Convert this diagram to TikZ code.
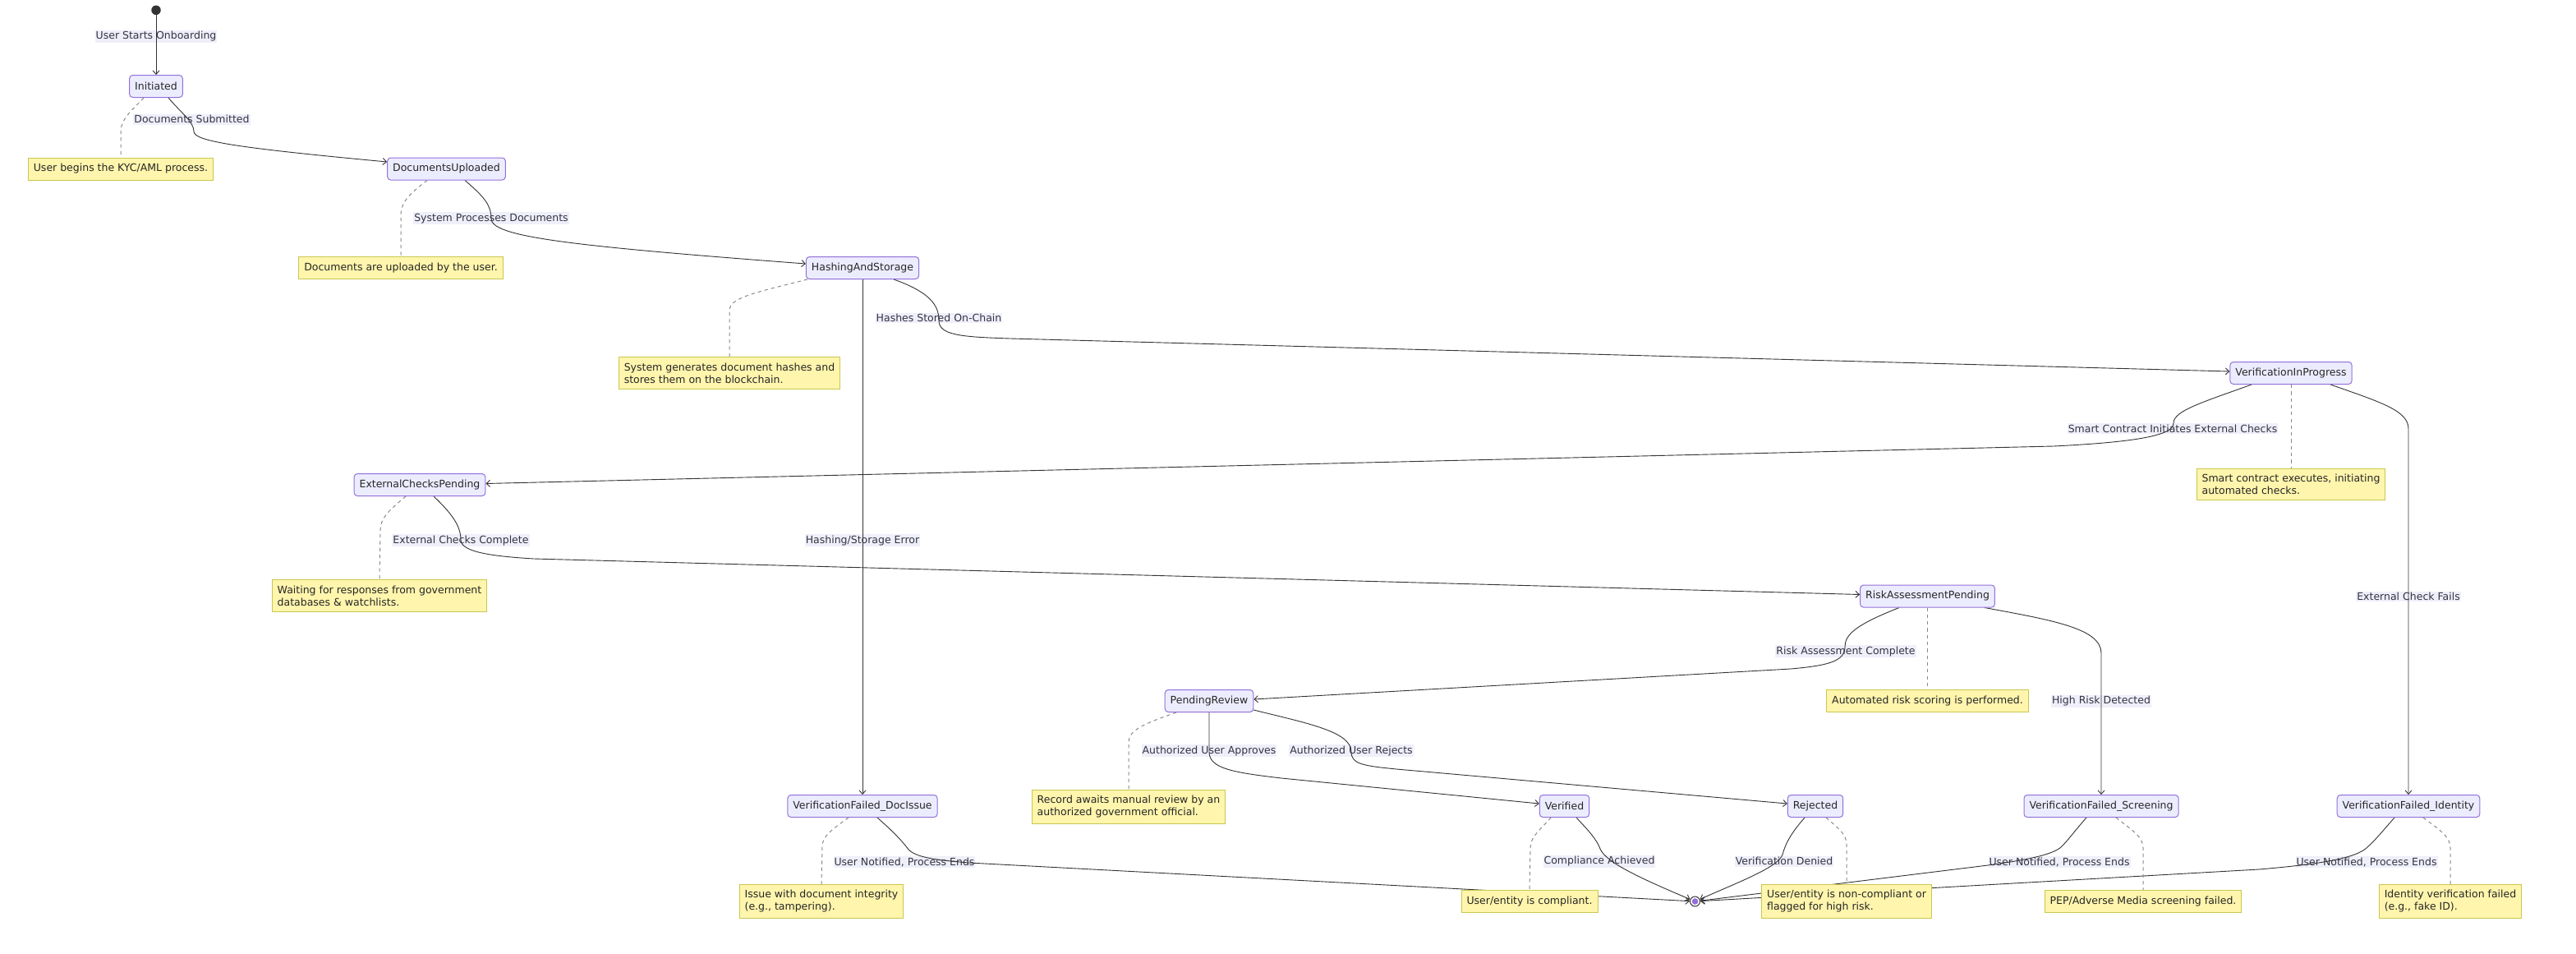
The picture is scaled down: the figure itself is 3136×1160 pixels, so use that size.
\documentclass[tikz,border=0pt]{standalone}
\usepackage{fontspec}
\setmainfont{DejaVu Sans}
\usetikzlibrary{arrows.meta,calc}
\definecolor{stfill}{HTML}{ECECFF}
\definecolor{stdraw}{HTML}{9370DB}
\definecolor{notefill}{HTML}{FFF5AD}
\definecolor{notedraw}{HTML}{C8C850}
\definecolor{edgec}{HTML}{333333}
\definecolor{lblfill}{HTML}{EFEFFA}
\definecolor{txt}{HTML}{333344}
\definecolor{dashc}{HTML}{888888}
\pgfdeclarelayer{lbllayer}
\pgfdeclarelayer{edgelayer}
\pgfsetlayers{lbllayer,edgelayer,main}
\begin{document}
\begin{tikzpicture}[x=1pt,y=-1pt,
 every node/.style={font=\fontsize{12.5}{15}\selectfont},
 stnode/.style={draw=stdraw, fill=stfill, rounded corners=4pt, line width=1pt, inner xsep=6.5pt, inner ysep=0pt, minimum height=27pt, text=black!85},
 notebox/.style={draw=notedraw, fill=notefill, line width=1pt, inner xsep=6.5pt, inner ysep=7pt, minimum height=27pt, align=left, text=black!85},
 lbl/.style={fill=lblfill, inner xsep=1pt, inner ysep=1.5pt, text=txt},
 trans/.style={draw=edgec, line width=0.9pt, -{Straight Barb[length=4.5pt,width=8pt]}},
 notelink/.style={draw=dashc, line width=1pt, dash pattern=on 4.2pt off 4.1pt}]
\useasboundingbox (0,0) rectangle (3136,1160);

% ---------- states ----------
\node[circle, fill=edgec, minimum size=11.5pt, inner sep=0pt] (start) at (190,12.3) {};
\node[stnode] (init) at (190,105) {Initiated};
\node[stnode] (docup) at (543.5,205.5) {DocumentsUploaded};
\node[stnode] (hash) at (1050,326) {HashingAndStorage};
\node[stnode] (vip) at (2789,454) {VerificationInProgress};
\node[stnode] (ecp) at (511,590) {ExternalChecksPending};
\node[stnode] (rap) at (2346.5,725.5) {RiskAssessmentPending};
\node[stnode] (pr) at (1472,853) {PendingReview};
\node[stnode] (docissue) at (1050,981) {VerificationFailed\_DocIssue};
\node[stnode] (verified) at (1904.5,981) {Verified};
\node[stnode] (rejected) at (2210,981) {Rejected};
\node[stnode] (screening) at (2558,981) {VerificationFailed\_Screening};
\node[stnode] (identity) at (2932,981) {VerificationFailed\_Identity};
\node[circle, draw=edgec, fill=white, line width=1pt, minimum size=12pt, inner sep=0pt] (end) at (2063.5,1097) {};
\node[circle, fill=stdraw, minimum size=7.6pt, inner sep=0pt] (endin) at (end.center) {};

% ---------- notes ----------
\node[notebox] (ninit) at (147,205.5) {User begins the KYC/AML process.};
\node[notebox] (ndocup) at (488,326) {Documents are uploaded by the user.};
\node[notebox] (nhash) at (888,454) {System generates document hashes and\\stores them on the blockchain.};
\node[notebox] (nvip) at (2789,589.5) {Smart contract executes, initiating\\automated checks.};
\node[notebox] (necp) at (462,725) {Waiting for responses from government\\databases \& watchlists.};
\node[notebox] (nrap) at (2346.5,853) {Automated risk scoring is performed.};
\node[notebox] (npr) at (1374,981.7) {Record awaits manual review by an\\authorized government official.};
\node[notebox] (ndocissue) at (1000,1097) {Issue with document integrity\\(e.g., tampering).};
\node[notebox] (nverified) at (1862,1097) {User/entity is compliant.};
\node[notebox] (nrejected) at (2248,1097) {User/entity is non-compliant or\\flagged for high risk.};
\node[notebox] (nscreening) at (2609,1097) {PEP/Adverse Media screening failed.};
\node[notebox] (nidentity) at (2983,1097) {Identity verification failed\\(e.g., fake ID).};

% ---------- edge labels ----------
\begin{pgfonlayer}{lbllayer}
\node[lbl] (l1) at (190,44.3) {User Starts Onboarding};
\node[lbl] (l2) at (233.5,145.3) {Documents Submitted};
\node[lbl] (l3) at (598,265.7) {System Processes Documents};
\node[lbl] (l4) at (1143,387) {Hashes Stored On-Chain};
\node[lbl] (l5) at (1050,657.7) {Hashing/Storage Error};
\node[lbl] (l6) at (2645,521.7) {Smart Contract Initiates External Checks};
\node[lbl] (l7) at (561,657.7) {External Checks Complete};
\node[lbl] (l8) at (2932,726) {External Check Fails};
\node[lbl] (l9) at (2247,792.7) {Risk Assessment Complete};
\node[lbl] (l10) at (2558,853.3) {High Risk Detected};
\node[lbl] (l11) at (1472,913.7) {Authorized User Approves};
\node[lbl] (l12) at (1645,913.7) {Authorized User Rejects};
\node[lbl] (l13) at (1101,1049) {User Notified, Process Ends};
\node[lbl] (l14) at (1947,1048.3) {Compliance Achieved};
\node[lbl] (l15) at (2172,1048.3) {Verification Denied};
\node[lbl] (l16) at (2507,1049) {User Notified, Process Ends};
\node[lbl] (l17) at (2881,1049) {User Notified, Process Ends};
\end{pgfonlayer}

% ---------- transitions ----------
\begin{pgfonlayer}{edgelayer}
\draw[trans] (start) -- (init);
\draw[trans] ($(init.south)+(15,0)$) .. controls (220,137) and (236,148) .. (236,160)
  .. controls (236,172) and (290,180) .. ($(docup.west)+(0,-8.5)$);
\draw[trans] ($(docup.south)+(22.5,0)$) .. controls (590,240) and (598,250) .. (598,266)
  .. controls (598,288) and (690,299) .. ($(hash.west)+(0,-5)$);
\draw[trans] ($(hash.south)+(38,0)$) .. controls (1130,355) and (1143,370) .. (1143,390)
  .. controls (1143,408) and (1170,410) .. (1230,412) -- ($(vip.west)+(0,-2)$);
\draw[trans] (hash) -- (docissue);
\draw[trans] ($(vip.south)+(-48,0)$) .. controls (2680,490) and (2646,500) .. (2646,515)
  .. controls (2646,530) and (2600,538) .. (2500,543) -- ($(ecp.east)+(0,-1.5)$);
\draw[trans] ($(vip.south)+(48,0)$) .. controls (2900,490) and (2932,500) .. (2932,522) -- (identity);
\draw[trans] ($(ecp.south)+(17,0)$) .. controls (550,625) and (561,640) .. (561,657)
  .. controls (561,672) and (600,677) .. (650,680) -- ($(rap.west)+(0,-2)$);
\draw[trans] ($(rap.south)+(-34.5,0)$) .. controls (2260,760) and (2246,772) .. (2246,787)
  .. controls (2246,805) and (2225,810) .. (2180,814) -- ($(pr.east)+(0,-2)$);
\draw[trans] ($(rap.south)+(69.5,0)$) .. controls (2500,755) and (2558,765) .. (2558,795) -- (screening);
\draw[trans] (pr) -- (1472,915) .. controls (1472,935) and (1500,940) .. (1560,947)
  -- ($(verified.west)+(0,-3)$);
\draw[trans] ($(pr.south east)+(0,-3)$) .. controls (1590,880) and (1645,890) .. (1645,915)
  .. controls (1645,930) and (1660,932) .. (1700,936) -- ($(rejected.west)+(0,-3)$);
\draw[trans] ($(docissue.south)+(18,0)$) .. controls (1085,1010) and (1095,1020) .. (1103,1030)
  .. controls (1110,1042) and (1130,1046) .. (1180,1050) -- (end);
\draw[trans] ($(verified.south)+(14.5,0)$) .. controls (1935,1012) and (1944,1022) .. (1948,1033)
  .. controls (1955,1050) and (2000,1070) .. (end);
\draw[trans] ($(rejected.south)+(-13,0)$) .. controls (2182,1012) and (2174,1025) .. (2170,1040)
  .. controls (2165,1055) and (2120,1072) .. (end);
\draw[trans] ($(screening.south)+(-18,0)$) .. controls (2525,1012) and (2518,1022) .. (2510,1030)
  .. controls (2500,1040) and (2470,1046) .. (2420,1053) -- (end);
\draw[trans] ($(identity.south)+(-17,0)$) .. controls (2900,1012) and (2892,1022) .. (2883,1030)
  .. controls (2870,1045) and (2820,1052) .. (2750,1058) -- (end);

% ---------- note links ----------
\draw[notelink] ($(init.south)+(-15,0)$) .. controls (160,135) and (147,145) .. (147,160) -- (ninit.north);
\draw[notelink] ($(docup.south)+(-23.5,0)$) .. controls (500,235) and (488,245) .. (488,262) -- (ndocup.north);
\draw[notelink] ($(hash.south west)+(2,0)$) .. controls (920,356) and (888,362) .. (888,378) -- (nhash.north);
\draw[notelink] (vip) -- (nvip);
\draw[notelink] ($(ecp.south)+(-17,0)$) .. controls (475,620) and (463,630) .. (463,645) -- (necp.north);
\draw[notelink] (rap) -- (nrap);
\draw[notelink] ($(pr.south)+(-40,0)$) .. controls (1395,880) and (1374,888) .. (1374,903) -- (npr.north);
\draw[notelink] ($(docissue.south)+(-17,0)$) .. controls (1012,1010) and (1001,1018) .. (1001,1030) -- (ndocissue.north);
\draw[notelink] ($(verified.south)+(-16.5,0)$) .. controls (1875,1010) and (1863,1018) .. (1863,1032) -- (nverified.north);
\draw[notelink] ($(rejected.south)+(13,0)$) .. controls (2238,1008) and (2248,1015) .. (2248,1028) -- (nrejected.north);
\draw[notelink] ($(screening.south)+(18,0)$) .. controls (2595,1010) and (2609,1018) .. (2609,1032) -- (nscreening.north);
\draw[notelink] ($(identity.south)+(18,0)$) .. controls (2970,1010) and (2983,1018) .. (2983,1032) -- (nidentity.north);
\end{pgfonlayer}
\end{tikzpicture}
\end{document}
